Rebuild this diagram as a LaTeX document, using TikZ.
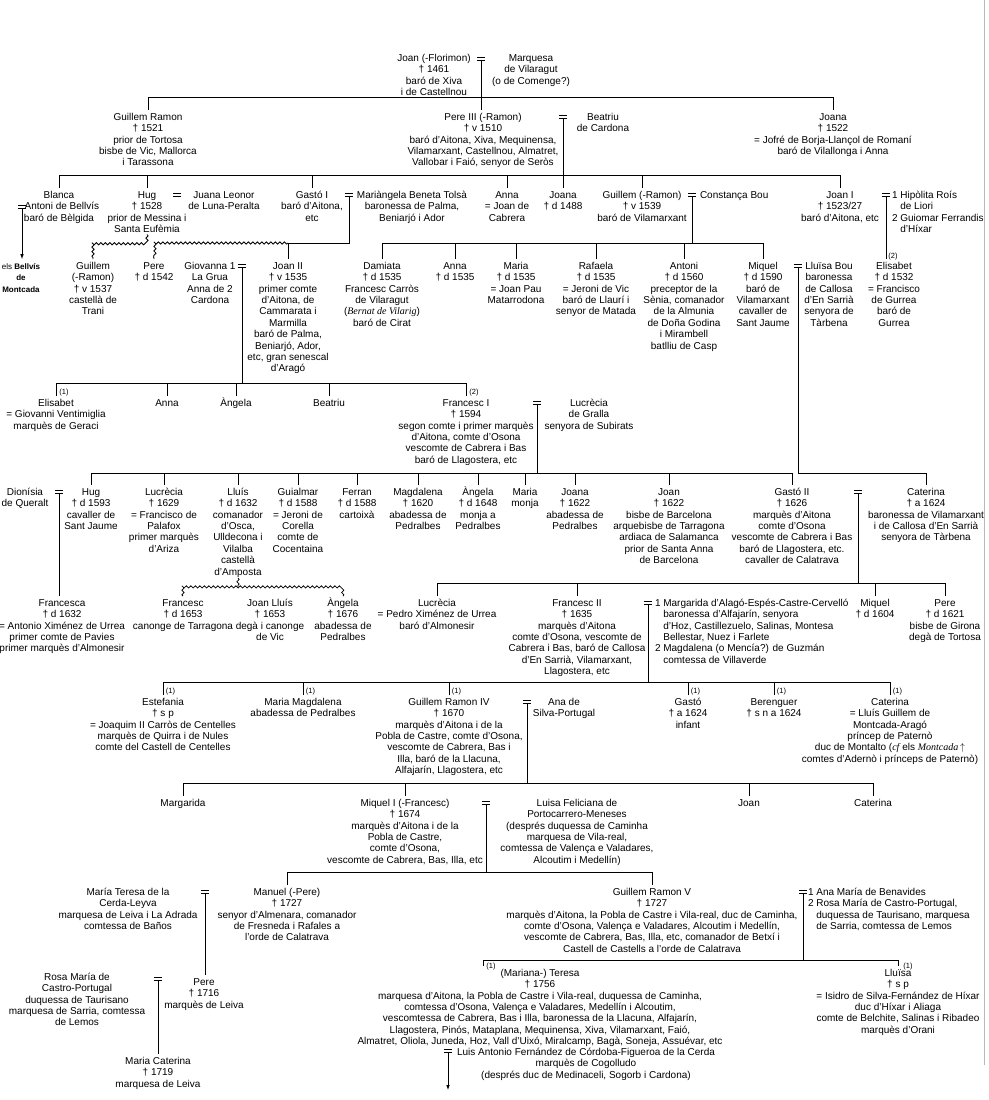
\documentclass[tikz,border=0pt]{standalone}
\usepackage{fontspec}
\setmainfont{Liberation Sans}
\newfontfamily\serifit{Liberation Serif}
\usetikzlibrary{decorations.pathmorphing,arrows.meta}
\newcommand\pers[4]{\node[pers] (#1) at (#2,#3-6.8) {\rule{0pt}{10pt}#4};}
\newcommand\persl[4]{\node[persl] (#1) at (#2,#3-6.8) {\rule{0pt}{10pt}#4};}
\newcommand\marr[3]{\node[msign] (#1) at (#2,#3) {};\draw[line width=0.75pt] (#1.north west) -- (#1.north east) (#1.south west) -- (#1.south east);}
\begin{document}
\begin{tikzpicture}[x=1pt,y=-1pt,line width=0.8pt,
  pers/.style={font=\fontsize{10}{11.4}\selectfont,align=center,inner sep=0pt,outer sep=0pt,anchor=north},
  persl/.style={pers,align=left,anchor=north west},
  lab/.style={font=\fontsize{7.5}{9}\selectfont,inner sep=0pt,anchor=base west},
  msign/.style={minimum width=7.5pt,minimum height=2.8pt,inner sep=0pt,outer sep=0pt},
  wavy/.style={decorate,decoration={snake,segment length=4.5pt,amplitude=1.1pt}},
  arr/.style={-{Latex[length=5pt,width=3.6pt]}},
  pageedge/.style={gray!55,line width=1pt}]
\fill[white] (0,0) rectangle (988,1100);
\useasboundingbox (0,0) rectangle (988,1100);
\draw[pageedge] (984,0) -- (984,1065);
% ---------- generation 0
\pers{joan0}{434}{58}{Joan (-Florimon)\\† 1461\\baró de Xiva\\i de Castellnou}
\marr{m0}{481}{59}
\pers{marq}{531}{58}{Marquesa\\de Vilaragut\\(o de Comenge?)}
\coordinate (b0) at (0,97);
% ---------- generation 1
\pers{guillemR}{148}{117}{Guillem Ramon\\† 1521\\prior de Tortosa\\bisbe de Vic, Mallorca\\i Tarassona}
\pers{pere3}{483}{117}{Pere III (-Ramon)\\† v 1510\\baró d'Aitona, Xiva, Mequinensa,\\Vilamarxant, Castellnou, Almatret,\\Vallobar i Faió, senyor de Seròs}
\marr{m1}{563}{117}
\pers{beatriu}{603}{117}{Beatriu\\de Cardona}
\pers{joana1}{833}{117}{Joana\\† 1522\\= Jofré de Borja-Llançol de Romaní\\baró de Vilallonga i Anna}
\coordinate (b1) at (0,175);
% ---------- generation 2
\pers{blanca}{59}{195}{Blanca\\\hphantom{=}Antoni de Bellvís\\baró de Bèlgida}
\marr{m5}{22}{207}
\pers{hug}{147}{195}{Hug\\† 1528\\prior de Messina i\\Santa Eufèmia}
\marr{mh}{177}{195}
\pers{juana}{224}{195}{Juana Leonor\\de Luna-Peralta}
\pers{gasto1}{312}{195}{Gastó I\\baró d'Aitona,\\etc}
\marr{m2}{349}{195}
\pers{mariangela}{412}{195}{Mariàngela Beneta Tolsà\\baronessa de Palma,\\Beniarjó i Ador}
\pers{anna1}{507}{195}{Anna\\= Joan de\\Cabrera}
\pers{joana2}{563}{195}{Joana\\† d 1488}
\pers{guillem2}{642}{195}{Guillem (-Ramon)\\† v 1539\\baró de Vilamarxant}
\marr{m3}{692}{195}
\persl{constanca}{700}{195}{Constança Bou}
\pers{joan1}{840}{195}{Joan I\\† 1523/27\\baró d'Aitona, etc}
\marr{m4}{886}{195}
\persl{hipolita}{892}{195}{1 Hipòlita Roís\\\hphantom{1 }de Liori\\2 Guiomar Ferrandis\\\hphantom{1 }d'Híxar}
\coordinate (b2) at (0,243);
\coordinate (b3) at (0,243);
\coordinate (hw) at (0,242);
% ---------- generation 3
\node[pers,font=\fontsize{8}{11.5}\selectfont] (bellvis) at (21,266-6.8) {\rule{0pt}{10pt}els \textbf{Bellvís}\\\textbf{de}\\\textbf{Montcada}};
\pers{guillem3}{93}{266}{Guillem\\(-Ramon)\\† v 1537\\castellà de\\Trani}
\pers{pere1}{154}{266}{Pere\\† d 1542}
\pers{giovanna}{210}{266}{Giovanna 1\\La Grua\\Anna de 2\\Cardona}
\marr{m6}{242}{266}
\pers{joan2}{288}{266}{Joan II\\† v 1535\\primer comte\\d'Aitona, de\\Cammarata i\\Marmilla\\baró de Palma,\\Beniarjó, Ador,\\etc, gran senescal\\d'Aragó}
\pers{damiata}{382}{266}{Damiata\\† d 1535\\Francesc Carròs\\de Vilaragut\\({\serifit\itshape Bernat de Vilarig})\\baró de Cirat}
\pers{anna2}{455}{266}{Anna\\† d 1535}
\pers{maria1}{516}{266}{Maria\\† d 1535\\= Joan Pau\\Matarrodona}
\pers{rafaela}{596}{266}{Rafaela\\† d 1535\\= Jeroni de Vic\\baró de Llaurí i\\senyor de Matada}
\pers{antoni}{684}{266}{Antoni\\† d 1560\\preceptor de la\\Sènia, comanador\\de la Almunia\\de Doña Godina\\i Mirambell\\batlliu de Casp}
\pers{miquel1}{763}{266}{Miquel\\† d 1590\\baró de\\Vilamarxant\\cavaller de\\Sant Jaume}
\marr{m7}{798}{266}
\pers{lluisa}{829}{266}{Lluïsa Bou\\baronessa\\de Callosa\\d'En Sarrià\\senyora de\\Tàrbena}
\pers{elisabet2}{894}{266}{Elisabet\\† d 1532\\= Francisco\\de Gurrea\\baró de\\Gurrea}
\node[lab] (l2a) at (888,258) {(2)};
\coordinate (b4) at (0,383);
% ---------- generation 4
\pers{elisabetV}{56}{403}{Elisabet\\= Giovanni Ventimiglia\\marquès de Geraci}
\pers{anna3}{167}{403}{Anna}
\pers{angela1}{236}{403}{Àngela}
\pers{beatriu2}{329}{403}{Beatriu}
\pers{francesc1}{466}{403}{Francesc I\\† 1594\\segon comte i primer marquès\\d'Aitona, comte d'Osona\\vescomte de Cabrera i Bas\\baró de Llagostera, etc}
\marr{m8}{537}{403}
\pers{lucrecia1}{589}{403}{Lucrècia\\de Gralla\\senyora de Subirats}
\node[lab] (l1a) at (59,394) {(1)};
\node[lab] (l2b) at (469,394) {(2)};
\coordinate (b5) at (0,473);
% ---------- generation 5
\pers{dionisia}{25}{492}{Dionísia\\de Queralt}
\marr{m9}{59}{492}
\pers{hug2}{91}{492}{Hug\\† d 1593\\cavaller de\\Sant Jaume}
\pers{lucrecia2}{164}{492}{Lucrècia\\† 1629\\= Francisco de\\Palafox\\primer marquès\\d'Ariza}
\pers{lluis}{238}{492}{Lluís\\† d 1632\\comanador\\d'Osca,\\Ulldecona i\\Vilalba\\castellà\\d'Amposta}
\pers{guialmar}{298}{492}{Guialmar\\† d 1588\\= Jeroni de\\Corella\\comte de\\Cocentaina}
\pers{ferran}{357}{492}{Ferran\\† d 1588\\cartoixà}
\pers{magdalena}{418}{492}{Magdalena\\† 1620\\abadessa de\\Pedralbes}
\pers{angela2}{478}{492}{Àngela\\† d 1648\\monja a\\Pedralbes}
\pers{maria2}{525}{492}{Maria\\monja}
\pers{joana3}{575}{492}{Joana\\† 1622\\abadessa de\\Pedralbes}
\pers{joan3}{669}{492}{Joan\\† 1622\\bisbe de Barcelona\\arquebisbe de Tarragona\\ardiaca de Salamanca\\prior de Santa Anna\\de Barcelona}
\pers{gasto2}{792}{492}{Gastó II\\† 1626\\marquès d'Aitona\\comte d'Osona\\vescomte de Cabrera i Bas\\baró de Llagostera, etc.\\cavaller de Calatrava}
\marr{m10}{858}{492}
\pers{caterina1}{926}{492}{Caterina\\† a 1624\\baronessa de Vilamarxant\\i de Callosa d'En Sarrià\\senyora de Tàrbena}
\coordinate (b6) at (0,583);
\coordinate (lw) at (0,587);
% ---------- generation 6
\pers{francesca}{62}{603}{Francesca\\† d 1632\\= Antonio Ximénez de Urrea\\primer comte de Pavies\\primer marquès d'Almonesir}
\pers{francesc3}{183}{603}{Francesc\\† d 1653\\canonge de Tarragona}
\pers{joanlluis}{270}{603}{Joan Lluís\\† 1653\\degà i canonge\\de Vic}
\pers{angela3}{343}{603}{Àngela\\† 1676\\abadessa de\\Pedralbes}
\pers{lucrecia3}{437}{603}{Lucrècia\\= Pedro Ximénez de Urrea\\baró d'Almonesir}
\pers{francesc2}{577}{603}{Francesc II\\† 1635\\marquès d'Aitona\\comte d'Osona, vescomte de\\Cabrera i Bas, baró de Callosa\\d'En Sarrià, Vilamarxant,\\Llagostera, etc}
\marr{m11}{648}{603}
\persl{margarida1}{655}{603}{1 Margarida d'Alagó-Espés-Castre-Cervelló\\\hphantom{1 }baronessa d'Alfajarín, senyora\\\hphantom{1 }d'Hoz, Castillezuelo, Salinas, Montesa\\\hphantom{1 }Bellestar, Nuez i Farlete\\2 Magdalena (o Mencía?) de Guzmán\\\hphantom{1 }comtessa de Villaverde}
\pers{miquel2}{875}{603}{Miquel\\† d 1604}
\pers{pere2}{945}{603}{Pere\\† d 1621\\bisbe de Girona\\degà de Tortosa}
\coordinate (b7) at (0,682);
% ---------- generation 7
\pers{estefania}{163}{702}{Estefania\\† s p\\= Joaquim II Carròs de Centelles\\marquès de Quirra i de Nules\\comte del Castell de Centelles}
\pers{mariamag}{303}{702}{Maria Magdalena\\abadessa de Pedralbes}
\pers{guillem4}{449}{702}{Guillem Ramon IV\\† 1670\\marquès d'Aitona i de la\\Pobla de Castre, comte d'Osona,\\vescomte de Cabrera, Bas i\\Illa, baró de la Llacuna,\\Alfajarín, Llagostera, etc}
\marr{m12}{527}{702}
\pers{ana1}{564}{702}{Ana de\\Silva-Portugal}
\pers{gasto3}{688}{702}{Gastó\\† a 1624\\infant}
\pers{berenguer}{774}{702}{Berenguer\\† s n a 1624}
\pers{caterina2}{890}{702}{Caterina\\= Lluís Guillem de\\Montcada-Aragó\\príncep de Paternò\\duc de Montalto ({\serifit\itshape cf} els {\serifit\itshape Montcada}\,$\uparrow$\\comtes d'Adernò i prínceps de Paternò)}
\node[lab] (l1b) at (165.5,693) {(1)};
\node[lab] (l1c) at (305.5,693) {(1)};
\node[lab] (l1d) at (451.5,693) {(1)};
\node[lab] (l1e) at (690.5,693) {(1)};
\node[lab] (l1f) at (776.5,693) {(1)};
\node[lab] (l1g) at (892.5,693) {(1)};
\coordinate (b8) at (0,783);
% ---------- generation 8
\pers{margarida2}{183}{803}{Margarida}
\pers{miquelI}{405}{803}{Miquel I (-Francesc)\\† 1674\\marquès d'Aitona i de la\\Pobla de Castre,\\comte d'Osona,\\vescomte de Cabrera, Bas, Illa, etc}
\marr{m13}{486}{803}
\pers{luisa}{577}{803}{Luisa Feliciana de\\Portocarrero-Meneses\\(després duquessa de Caminha\\marquesa de Vila-real,\\comtessa de Valença e Valadares,\\Alcoutim i Medellín)}
\pers{joan4}{749}{803}{Joan}
\pers{caterina3}{873}{803}{Caterina}
\coordinate (b9) at (0,872);
% ---------- generation 9
\pers{mariateresa}{128}{892}{María Teresa de la\\Cerda-Leyva\\marquesa de Leiva i La Adrada\\comtessa de Baños}
\marr{m14}{205}{892}
\pers{manuel}{287}{892}{Manuel (-Pere)\\† 1727\\senyor d'Almenara, comanador\\de Fresneda i Rafales a\\l'orde de Calatrava}
\pers{guillem5}{652}{892}{Guillem Ramon V\\† 1727\\marquès d'Aitona, la Pobla de Castre i Vila-real, duc de Caminha,\\comte d'Osona, Valença e Valadares, Alcoutim i Medellín,\\vescomte de Cabrera, Bas, Illa, etc, comanador de Betxí i\\Castell de Castells a l'orde de Calatrava}
\marr{m15}{803}{892}
\persl{anamaria}{808}{892}{1 Ana María de Benavides\\2 Rosa María de Castro-Portugal,\\\hphantom{2 }duquessa de Taurisano, marquesa\\\hphantom{2 }de Sarria, comtessa de Lemos}
\coordinate (b10) at (0,960);
\coordinate (td) at (483,960);
% ---------- generation 10
\pers{rosa}{77}{977}{Rosa María de\\Castro-Portugal\\duquessa de Taurisano\\marquesa de Sarria, comtessa\\de Lemos}
\marr{m16}{158}{979}
\pers{pere3b}{204}{982}{Pere\\† 1716\\marquès de Leiva}
\pers{mariacat}{158}{1061}{Maria Caterina\\† 1719\\marquesa de Leiva}
\pers{teresa}{540}{973}{(Mariana-) Teresa\\† 1756\\marquesa d'Aitona, la Pobla de Castre i Vila-real, duquessa de Caminha,\\comtessa d'Osona, Valença e Valadares, Medellín i Alcoutim,\\vescomtessa de Cabrera, Bas i Illa, baronessa de la Llacuna, Alfajarín,\\Llagostera, Pinós, Mataplana, Mequinensa, Xiva, Vilamarxant, Faió,\\Almatret, Oliola, Juneda, Hoz, Vall d'Uixó, Miralcamp, Bagà, Soneja, Assuévar, etc}
\marr{m17}{448}{1051}
\pers{luis}{586}{1052}{Luis Antonio Fernández de Córdoba-Figueroa de la Cerda\\marquès de Cogolludo\\(després duc de Medinaceli, Sogorb i Cardona)}
\coordinate (arrEnd) at (448,1090);
\pers{lluisa2}{898}{973}{Lluïsa\\† s p\\= Isidro de Silva-Fernández de Híxar\\duc d'Híxar i Aliaga\\comte de Belchite, Salinas i Ribadeo\\marquès d'Orani}
\node[lab] (l1h) at (486,968) {(1)};
\node[lab] (l1i) at (903,968) {(1)};
% ================= connectors
\draw (m0.south) -- (m0.south |- pere3.north);
\draw (guillemR.north) -- (guillemR.north |- b0) -- (joana1.north |- b0) -- (joana1.north);
\draw (m1.south) -- (m1.south |- joana2.north);
\draw (blanca.north) -- (blanca.north |- b1) -- (joan1.north |- b1) -- (joan1.north);
\foreach \n in {hug,gasto1,anna1,guillem2} \draw (\n.north) -- (\n.north |- b1);
\draw[arr] (m5.south) -- (m5.south |- bellvis.north);
\draw[wavy] ([yshift=-2pt]hug.south) -- (hug.south |- hw) -- (guillem3.north |- hw) -- (guillem3.north);
\draw (m2.south) -- (m2.south |- b2) -- (joan2.north |- b2) -- (joan2.north);
\draw[wavy] (joan2.north |- b2) -- (pere1.north |- b2) -- (pere1.north);
\draw (m3.south) -- (m3.south |- b3);
\draw (damiata.north) -- (damiata.north |- b3) -- (miquel1.north |- b3) -- (miquel1.north);
\foreach \n in {anna2,maria1,rafaela,antoni} \draw (\n.north) -- (\n.north |- b3);
\draw (m4.south) -- (m4.south |- elisabet2.north);
\draw (m6.south) -- (m6.south |- b4);
\draw (elisabetV.north) -- (elisabetV.north |- b4) -- (francesc1.north |- b4) -- (francesc1.north);
\foreach \n in {anna3,angela1,beatriu2} \draw (\n.north) -- (\n.north |- b4);
\draw (m7.south) -- (m7.south |- b5) -- (caterina1.north |- b5) -- (caterina1.north);
\draw (m8.south) -- (m8.south |- b5);
\draw (hug2.north) -- (hug2.north |- b5) -- (gasto2.north |- b5) -- (gasto2.north);
\foreach \n in {lucrecia2,lluis,guialmar,ferran,magdalena,angela2,maria2,joana3,joan3} \draw (\n.north) -- (\n.north |- b5);
\draw (m9.south) -- (m9.south |- francesca.north);
\draw (m10.south) -- (m10.south |- b6);
\draw (lucrecia3.north) -- (lucrecia3.north |- b6) -- (pere2.north |- b6) -- (pere2.north);
\foreach \n in {francesc2,miquel2} \draw (\n.north) -- (\n.north |- b6);
\draw[wavy] ([yshift=-1pt]lluis.south) -- (lluis.south |- lw);
\draw[wavy] (francesc3.north) -- (francesc3.north |- lw) -- (angela3.north |- lw) -- (angela3.north);
\draw (m11.south) -- (m11.south |- b7);
\draw (estefania.north) -- (estefania.north |- b7) -- (caterina2.north |- b7) -- (caterina2.north);
\foreach \n in {mariamag,guillem4,gasto3,berenguer} \draw (\n.north) -- (\n.north |- b7);
\draw (m12.south) -- (m12.south |- b8);
\draw (margarida2.north) -- (margarida2.north |- b8) -- (caterina3.north |- b8) -- (caterina3.north);
\foreach \n in {miquelI,joan4} \draw (\n.north) -- (\n.north |- b8);
\draw (m13.south) -- (m13.south |- b9);
\draw (manuel.north) -- (manuel.north |- b9) -- (guillem5.north |- b9) -- (guillem5.north);
\draw (m14.south) -- (m14.south |- pere3b.north);
\draw (m15.south) -- (m15.south |- b10);
\draw (td |- teresa.north) -- (td) -- (lluisa2.north |- b10) -- (lluisa2.north);
\draw (m16.south) -- (m16.south |- mariacat.north);
\draw[arr] (m17.south) -- (arrEnd);
\end{tikzpicture}
\end{document}
